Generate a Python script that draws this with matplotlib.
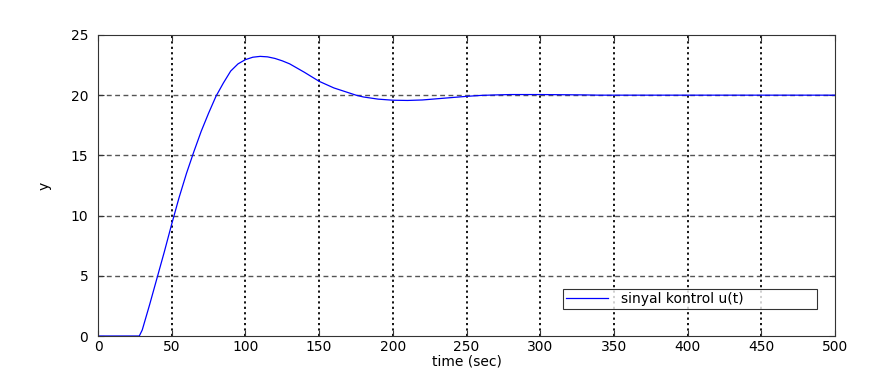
import matplotlib
matplotlib.use('Agg')
import matplotlib.pyplot as plt

t = [0, 28, 30, 35, 40, 45, 50, 55, 60, 65, 70, 75, 80, 85, 90, 95, 100, 105,
     110, 115, 120, 125, 130, 140, 150, 160, 170, 175, 180, 190, 200, 210, 220,
     230, 240, 250, 260, 270, 280, 290, 300, 310, 320, 330, 340, 500]
u = [0, 0, 0.5, 2.6, 4.8, 7.0, 9.3, 11.5, 13.5, 15.3, 17.0, 18.5, 19.9, 21.0,
     22.0, 22.6, 22.95, 23.15, 23.22, 23.18, 23.05, 22.85, 22.6, 21.9, 21.15,
     20.6, 20.2, 20.0, 19.85, 19.67, 19.58, 19.56, 19.6, 19.7, 19.8, 19.9, 19.98,
     20.02, 20.05, 20.05, 20.05, 20.04, 20.03, 20.02, 20.0, 20.0]
xticks = [0, 50, 100, 150, 200, 250, 300, 350, 400, 450, 500]
yticks = [0, 5, 10, 15, 20, 25]

plt.rcParams['font.family'] = 'DejaVu Sans'
fig = plt.figure(figsize=(8.76, 3.84), dpi=100)
ax = fig.add_axes([0.1119, 0.125, 0.8413, 0.784])
ax.plot(t, u, color='#0000ff', lw=0.9, label='sinyal kontrol u(t)')
ax.set_xlim(0, 500)
ax.set_ylim(0, 25)
ax.set_xticks(xticks)
ax.set_yticks(yticks)
for x in xticks[1:-1]:
    ax.axvline(x, color='black', ls=(0, (1.2, 1.8)), lw=1.3, zorder=0)
for y in yticks[1:-1]:
    ax.axhline(y, color='#555555', ls=(0, (3.5, 2.5)), lw=1.0, zorder=0)
ax.tick_params(direction='in', top=True, right=True, labelsize=10, length=4,
               color='#333333', pad=3)
ax.tick_params(axis='y', pad=7)
for s in ax.spines.values():
    s.set_color('#333333')
ax.set_xlabel('time (sec)', fontsize=10, labelpad=0)
ax.set_ylabel('y', fontsize=10, labelpad=14)
leg = ax.legend(loc='lower left', bbox_to_anchor=(0.631, 0.0897, 0.345, 0.06),
                mode='expand', borderaxespad=0, fancybox=False, fontsize=10,
                handlelength=3.0, handletextpad=1.0, borderpad=0.2)
leg.get_frame().set_edgecolor('black')
leg.get_frame().set_linewidth(0.8)
fig.savefig('out.png', dpi=100)
